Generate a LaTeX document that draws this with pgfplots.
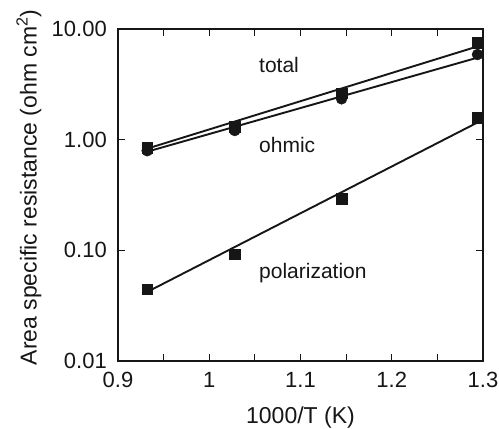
\documentclass[border=0pt]{standalone}
\usepackage{fontspec}
\setmainfont{Liberation Sans}
\usepackage{pgfplots}
\pgfplotsset{compat=1.18}

\definecolor{ink}{HTML}{161616}

\begin{document}
\fontsize{21}{25}\selectfont
\begin{tikzpicture}
\path[use as bounding box] (-118pt,-68pt) rectangle (381pt,361pt);
\begin{axis}[
scale only axis,
width=365pt,
height=332pt,
anchor=south west,
at={(0,0)},
ymode=log,
xmin=0.9, xmax=1.3,
ymin=0.01, ymax=10,
xtick={0.9,1,1.1,1.2,1.3},
xticklabels={0.9,1,1.1,1.2,1.3},
minor xtick={0.95,1.05,1.15,1.25},
ytick={0.01,0.1,1,10},
yticklabels={0.01,0.10,1.00,10.00},
yminorticks=false,
tick align=inside,
major tick length=7pt,
minor tick length=7pt,
every tick/.style={ink, line width=0.8pt},
axis line style={ink, line width=2.6pt},
tick label style={font=\fontsize{22}{26}\selectfont, text=ink},
xticklabel style={yshift=-4pt},
yticklabel style={xshift=-4pt},
/pgf/number format/assume math mode=true,
xlabel={1000/T (K)},
ylabel={Area specific resistance (ohm cm\textsuperscript{2})},
label style={font=\fontsize{23}{27}\selectfont, text=ink},
xlabel style={at={(axis description cs:0.5,0)}, anchor=center, yshift=-57pt},
ylabel style={at={(axis description cs:-0.244,0.523)}, anchor=center},
clip=false,
]
% fitted lines
\addplot[ink, line width=1.9pt, no marks] coordinates {(0.932,0.83) (1.294,6.96)};
\addplot[ink, line width=1.9pt, no marks] coordinates {(0.932,0.779) (1.294,5.51)};
\addplot[ink, line width=1.9pt, no marks] coordinates {(0.932,0.0421) (1.294,1.43)};
% measured points
\addplot[only marks, mark=square*, mark size=5.3pt, ink] coordinates {(0.932,0.846) (1.028,1.31) (1.145,2.62) (1.294,7.55)};
\addplot[only marks, mark=*, mark size=5.5pt, ink] coordinates {(0.932,0.795) (1.028,1.21) (1.145,2.34) (1.294,5.88)};
\addplot[only marks, mark=square*, mark size=5.3pt, ink] coordinates {(0.932,0.0444) (1.028,0.0924) (1.145,0.294) (1.294,1.58)};
\node[anchor=base west, inner sep=0pt, text=ink] at (axis cs:1.0545,4.04) {total};
\node[anchor=base west, inner sep=0pt, text=ink] at (axis cs:1.0545,0.763) {ohmic};
\node[anchor=base west, inner sep=0pt, text=ink] at (axis cs:1.0545,0.0552) {polarization};
\end{axis}
\end{tikzpicture}
\end{document}
